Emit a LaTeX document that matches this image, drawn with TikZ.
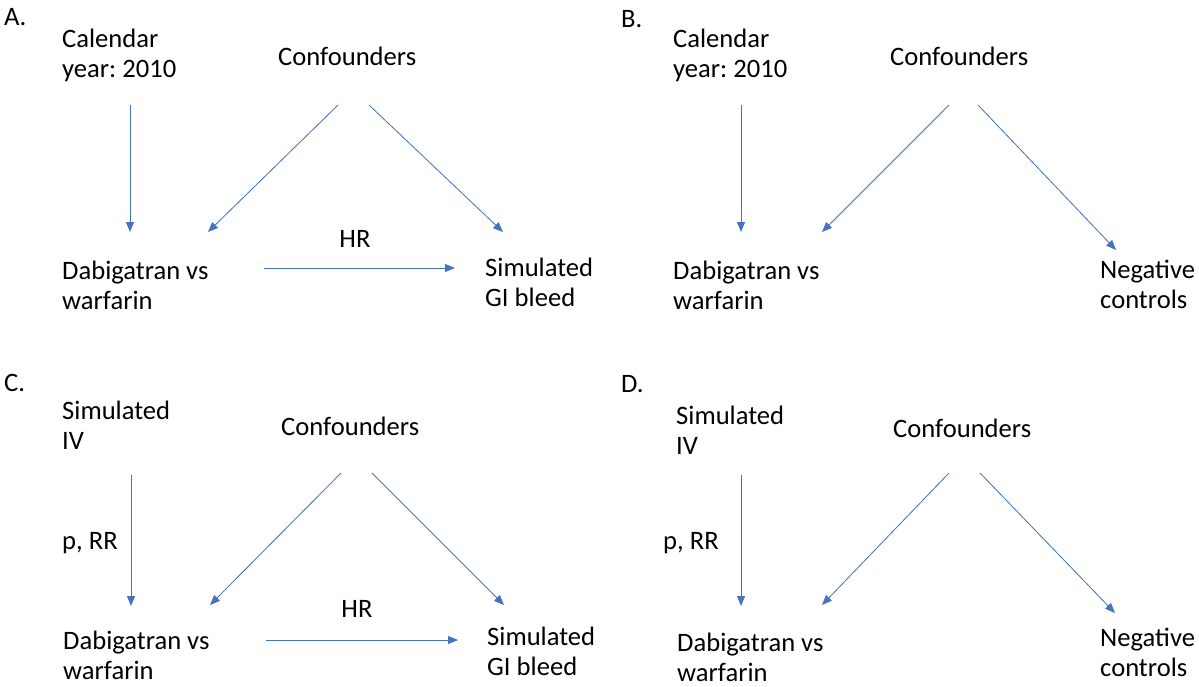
\documentclass[tikz,border=0pt]{standalone}
\usepackage{fontspec}
\setmainfont{Carlito}
\usetikzlibrary{arrows.meta}
\definecolor{arrowblue}{HTML}{4472C4}
\frenchspacing
\begin{document}
\begin{tikzpicture}[x=1pt,y=-1pt,
  lbl/.style={inner sep=0pt,anchor=west,align=left,font=\fontsize{26.6}{30}\selectfont},
  conn/.style={draw=arrowblue,line width=0.8pt,-{Triangle[length=10pt,width=8pt]},fill=arrowblue}]
\useasboundingbox (0,0) rectangle (1199,686);
% ---------- Panel A ----------
\node[lbl] (pA) at (4,17) {A.};
\node[lbl] (calA) at (62,55) {Calendar\\year: 2010};
\node[lbl] (confA) at (278,56) {Confounders};
\node[lbl] (dabA) at (62,285) {Dabigatran vs\\warfarin};
\node[lbl] (simA) at (485,282) {Simulated\\GI bleed};
\node[lbl,anchor=center] (hrA) at (355,239) {HR};
\coordinate (a1s) at (130,105); \coordinate (a1e) at (130,232);
\coordinate (a2s) at (338,105); \coordinate (a2e) at (208,232);
\coordinate (a3s) at (369,105); \coordinate (a3e) at (503,232);
\coordinate (a4s) at (264,268); \coordinate (a4e) at (455,268);
\draw[conn] (a1s) -- (a1e);
\draw[conn] (a2s) -- (a2e);
\draw[conn] (a3s) -- (a3e);
\draw[conn] (a4s) -- (a4e);
% ---------- Panel B ----------
\node[lbl] (pB) at (621,19) {B.};
\node[lbl] (calB) at (673,55) {Calendar\\year: 2010};
\node[lbl] (confB) at (890,56) {Confounders};
\node[lbl] (dabB) at (673,285) {Dabigatran vs\\warfarin};
\node[lbl] (negB) at (1100,284) {Negative\\controls};
\coordinate (b1s) at (741,105); \coordinate (b1e) at (741,232);
\coordinate (b2s) at (949,105); \coordinate (b2e) at (822,232);
\coordinate (b3s) at (978,105); \coordinate (b3e) at (1116,250);
\draw[conn] (b1s) -- (b1e);
\draw[conn] (b2s) -- (b2e);
\draw[conn] (b3s) -- (b3e);
% ---------- Panel C ----------
\node[lbl] (pC) at (4,383) {C.};
\node[lbl] (ivC) at (62,425) {Simulated\\IV};
\node[lbl] (confC) at (281,426) {Confounders};
\node[lbl] (prC) at (62,543) {p, RR};
\node[lbl] (dabC) at (63,655) {Dabigatran vs\\warfarin};
\node[lbl] (simC) at (487,651) {Simulated\\GI bleed};
\node[lbl,anchor=center] (hrC) at (357,609) {HR};
\coordinate (c1s) at (131,475); \coordinate (c1e) at (131,606);
\coordinate (c2s) at (341,473); \coordinate (c2e) at (210,605);
\coordinate (c3s) at (372,473); \coordinate (c3e) at (504,605);
\coordinate (c4s) at (266,640); \coordinate (c4e) at (458,640);
\draw[conn] (c1s) -- (c1e);
\draw[conn] (c2s) -- (c2e);
\draw[conn] (c3s) -- (c3e);
\draw[conn] (c4s) -- (c4e);
% ---------- Panel D ----------
\node[lbl] (pD) at (621,384) {D.};
\node[lbl] (ivD) at (676,430) {Simulated\\IV};
\node[lbl] (confD) at (893,428) {Confounders};
\node[lbl] (prD) at (663,543) {p, RR};
\node[lbl] (dabD) at (677,657) {Dabigatran vs\\warfarin};
\node[lbl] (negD) at (1100,652) {Negative\\controls};
\coordinate (d1s) at (741,475); \coordinate (d1e) at (741,606);
\coordinate (d2s) at (949,473); \coordinate (d2e) at (822,605);
\coordinate (d3s) at (980,473); \coordinate (d3e) at (1115,613);
\draw[conn] (d1s) -- (d1e);
\draw[conn] (d2s) -- (d2e);
\draw[conn] (d3s) -- (d3e);
\end{tikzpicture}
\end{document}
